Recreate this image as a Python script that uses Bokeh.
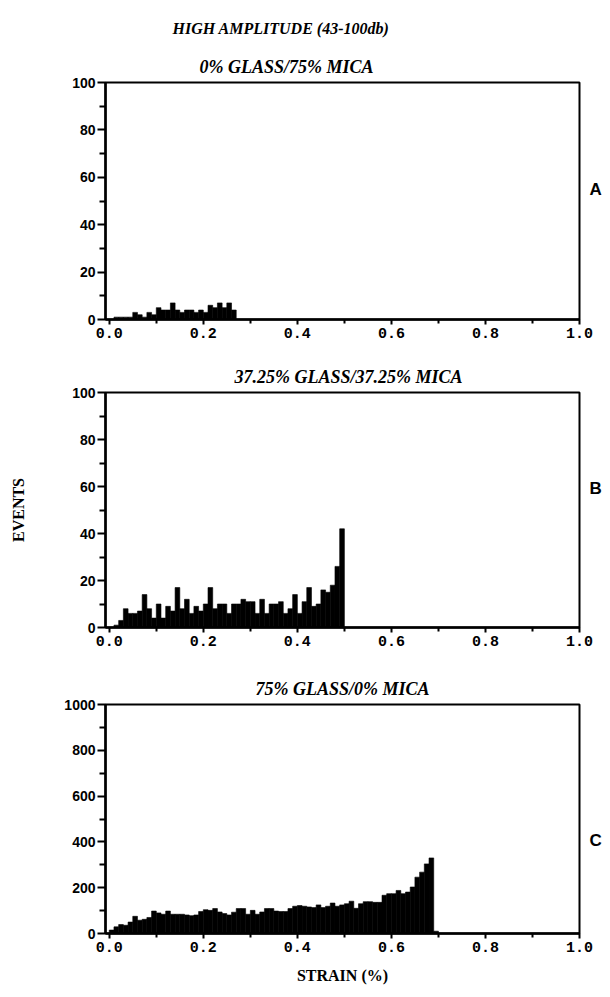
from bokeh.plotting import figure
from bokeh.layouts import column
from bokeh.models import (Range1d, FixedTicker, NumeralTickFormatter, ColumnDataSource,
                          LinearAxis)
from bokeh.embed import file_html
from bokeh.resources import INLINE

# ---------------- data ----------------
bin_width = 0.01  # strain (%) per histogram bin

counts_a = [0, 1, 1, 1, 1, 3, 2, 1, 3, 2, 5, 4, 4, 7, 4, 3, 4, 4, 3, 4,
            3, 6, 5, 7, 5, 7, 4]

counts_b = [0, 1, 3, 8, 6, 6, 7, 14, 8, 4, 10, 4, 9, 7, 17, 8, 12, 6, 9, 7,
            10, 17, 8, 10, 10, 6, 10, 10, 12, 11, 11, 6, 12, 6, 10, 10, 11, 6, 8, 14,
            6, 11, 17, 9, 10, 16, 15, 18, 26, 42]

counts_c = [15, 29, 39, 36, 50, 75, 58, 62, 70, 98, 90, 84, 98, 84, 84, 84, 81, 78, 81, 96,
            104, 101, 109, 94, 87, 81, 93, 109, 109, 84, 101, 84, 94, 109, 109, 98, 96, 96, 109, 119,
            122, 119, 116, 113, 125, 113, 119, 133, 119, 125, 130, 141, 110, 130, 139, 139, 136, 136, 167, 174,
            174, 188, 174, 181, 203, 246, 268, 304, 330, 10]

x_ticks = [0.0, 0.2, 0.4, 0.6, 0.8, 1.0]
x_minor = [0.1, 0.3, 0.5, 0.7, 0.9]
y_ticks_small = [0, 20, 40, 60, 80, 100]
y_minor_small = [10, 30, 50, 70, 90]
y_ticks_big = [0, 200, 400, 600, 800, 1000]
y_minor_big = [100, 300, 500, 700, 900]

main_title = "HIGH AMPLITUDE (43-100db)"
panel_titles = ["0% GLASS/75% MICA", "37.25% GLASS/37.25% MICA", "75% GLASS/0% MICA"]
panel_letters = ["A", "B", "C"]
y_label = "EVENTS"
x_label = "STRAIN (%)"

SERIF = "Liberation Serif"
SANS = "Liberation Sans"
MONO = "Liberation Mono"


def make_panel(counts, ymax, yticks, yminor, height, btop, bbottom):
    p = figure(width=610, height=height, output_backend="svg", toolbar_location=None,
               x_range=Range1d(-0.008, 1.0), y_range=Range1d(0, ymax),
               min_border_left=105, min_border_right=31,
               min_border_top=btop, min_border_bottom=bbottom)
    p.background_fill_color = "white"
    p.border_fill_color = "white"
    p.outline_line_color = "black"
    p.outline_line_width = 2
    p.outline_line_alpha = 1
    p.grid.visible = False

    xs = [bin_width * (i + 0.5) for i in range(len(counts))]
    src = ColumnDataSource(dict(x=xs, top=counts))
    p.vbar(x="x", top="top", width=bin_width, bottom=0, source=src,
           fill_color="black", line_color="black", line_width=0.6)

    xax = p.below[0]
    yax = p.left[0]
    xax.ticker = FixedTicker(ticks=x_ticks, minor_ticks=x_minor)
    xax.formatter = NumeralTickFormatter(format="0.0")
    yax.ticker = FixedTicker(ticks=yticks, minor_ticks=yminor)

    for ax in (xax, yax):
        ax.axis_line_color = "black"
        ax.axis_line_width = 2.5
        ax.major_tick_line_color = "black"
        ax.major_tick_line_width = 2
        ax.minor_tick_line_color = "black"
        ax.minor_tick_line_width = 2
        ax.major_tick_in = 0
        ax.minor_tick_in = 0
        ax.major_label_text_color = "black"
        ax.major_label_text_font_style = "bold"

    xax.major_tick_out = 5
    xax.minor_tick_out = 4
    xax.major_label_standoff = 3
    xax.major_label_text_font = MONO
    xax.major_label_text_font_size = "15px"

    yax.major_tick_out = 8
    yax.minor_tick_out = 6
    yax.major_label_standoff = 2
    yax.major_label_text_font = SANS
    yax.major_label_text_font_size = "14px"
    return p, xax, yax


def text_axis(p, side, pos, text, font, size, style, standoff):
    """A bare axis whose single tick label carries a piece of text."""
    ax = LinearAxis(ticker=FixedTicker(ticks=[pos], minor_ticks=[]),
                    major_label_overrides={pos: text})
    ax.axis_line_color = None
    ax.major_tick_line_color = None
    ax.minor_tick_line_color = None
    ax.major_tick_out = 0
    ax.major_tick_in = 0
    ax.major_label_standoff = standoff
    ax.major_label_text_font = font
    ax.major_label_text_font_size = size
    ax.major_label_text_font_style = style
    ax.major_label_text_color = "black"
    p.add_layout(ax, side)
    return ax


# Panel A
pa, xa, ya = make_panel(counts_a, 100, y_ticks_small, y_minor_small, 359, 82, 40)
text_axis(pa, "above", 0.377, panel_titles[0], SERIF, "18px", "bold italic", 6)
text_axis(pa, "right", 55, panel_letters[0], SANS, "17px", "bold", 10)
pa.title.text = main_title
pa.title.text_font = SERIF
pa.title.text_font_size = "16px"
pa.title.text_font_style = "bold italic"
pa.title.text_color = "black"
pa.title.align = "left"
pa.title.offset = 67
pa.title.standoff = 33

# Panel B
pb, xb, yb = make_panel(counts_b, 100, y_ticks_small, y_minor_small, 301, 33, 33)
text_axis(pb, "above", 0.509, panel_titles[1], SERIF, "18px", "bold italic", 6)
text_axis(pb, "right", 59, panel_letters[1], SANS, "17px", "bold", 10)
yb.axis_label = y_label
yb.axis_label_text_font = SERIF
yb.axis_label_text_font_size = "16px"
yb.axis_label_text_font_style = "bold"
yb.axis_label_text_color = "black"
yb.axis_label_standoff = 42

# Panel C
pc, xc, yc = make_panel(counts_c, 1000, y_ticks_big, y_minor_big, 337, 44, 64)
text_axis(pc, "above", 0.496, panel_titles[2], SERIF, "18px", "bold italic", 6)
text_axis(pc, "right", 406, panel_letters[2], SANS, "17px", "bold", 10)
xc.axis_label = x_label
xc.axis_label_text_font = SERIF
xc.axis_label_text_font_size = "16px"
xc.axis_label_text_font_style = "bold"
xc.axis_label_text_color = "black"
xc.axis_label_standoff = 12

layout = column(pa, pb, pc, spacing=0)

with open("out.html", "w") as f:
    f.write(file_html(layout, INLINE))
